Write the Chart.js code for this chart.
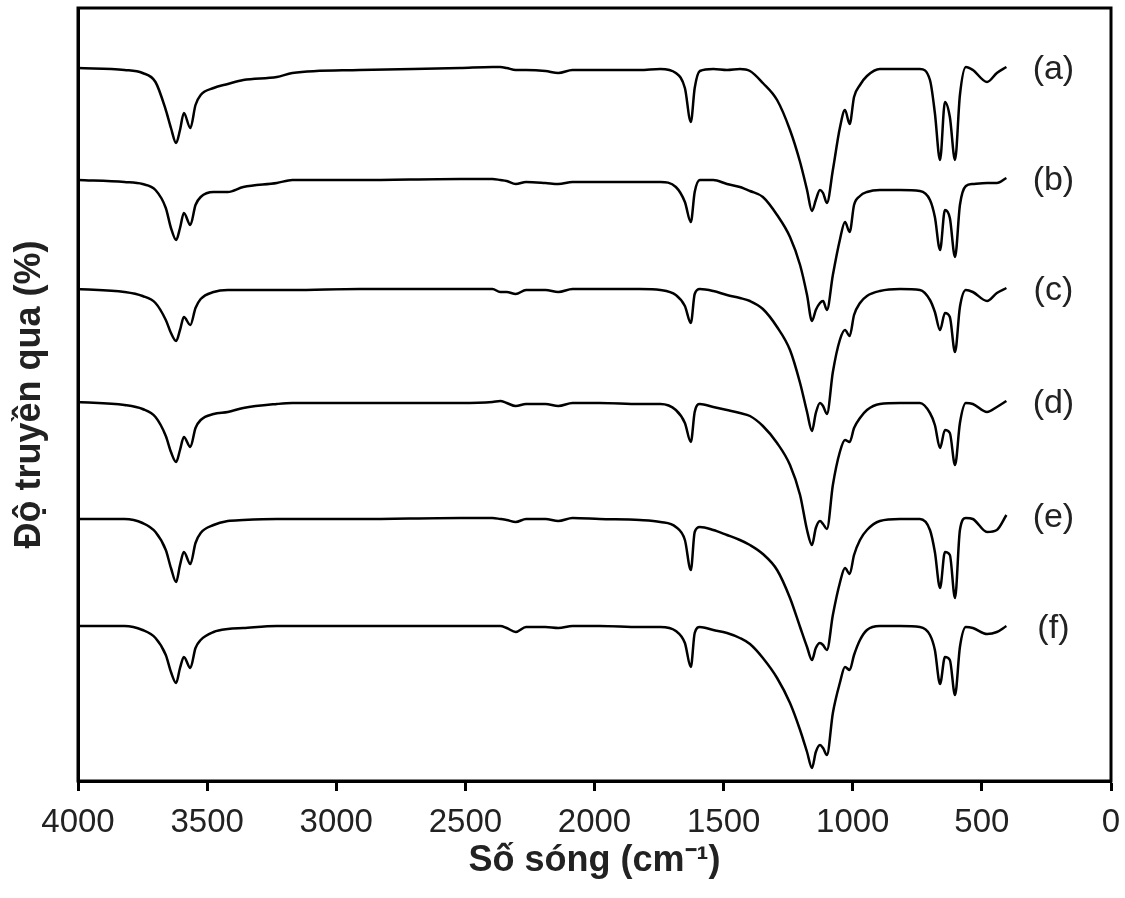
<!DOCTYPE html>
<html>
<head>
<meta charset="utf-8">
<script src="https://cdn.jsdelivr.net/npm/chart.js@4.4.1/dist/chart.umd.min.js"></script>
<style>
  html, body { margin: 0; padding: 0; background: #fff; }
  #wrap { width: 1125px; height: 898px; }
</style>
</head>
<body>
<div id="wrap"><canvas id="ftirChart" width="1125" height="898"></canvas></div>
<script>
// Wavenumbers (cm-1) shared by all six spectra
const wavenumbers = [4000, 3820, 3750, 3700, 3660, 3640, 3620, 3605, 3590, 3565,
    3545, 3525, 3475, 3420, 3360, 3230, 3170, 2910, 2520, 2395,
    2365, 2340, 2305, 2265, 2190, 2140, 2085, 1980, 1825, 1745,
    1685, 1650, 1627, 1612, 1592, 1540, 1487, 1437, 1398, 1348,
    1293, 1243, 1204, 1177, 1158, 1143, 1127, 1115, 1100, 1077,
    1050, 1030, 1012, 995, 972, 945, 895, 817, 740, 701,
    682, 662, 643, 624, 604, 585, 562, 535, 480, 442, 405];

// Transmittance (arbitrary units, stacked with offsets)
const spectrumA = [713, 711, 708, 699, 671, 653, 638, 651, 668, 653,
    676, 686, 693, 697, 701, 704, 708, 711, 713, 714,
    714, 713, 711, 711, 710, 708, 711, 711, 711, 712,
    708, 693, 659, 693, 710, 712, 711, 712, 710, 698,
    681, 651, 619, 591, 570, 581, 591, 588, 578, 611,
    653, 671, 657, 684, 696, 705, 712, 712, 712, 701,
    668, 621, 679, 664, 621, 686, 714, 711, 699, 708, 714];
const spectrumB = [601, 599, 597, 591, 573, 553, 541, 553, 568, 556,
    576, 584, 589, 589, 594, 598, 601, 601, 602, 602,
    601, 600, 597, 599, 598, 597, 599, 599, 599, 599,
    594, 579, 559, 589, 601, 601, 597, 594, 590, 584,
    566, 544, 516, 486, 460, 471, 478, 480, 471, 506,
    541, 559, 549, 576, 585, 589, 591, 591, 590, 581,
    564, 531, 571, 563, 524, 576, 595, 597, 598, 598, 603];
const spectrumC = [492, 489, 485, 478, 461, 448, 440, 451, 464, 456,
    473, 482, 489, 491, 491, 491, 491, 492, 492, 492,
    489, 489, 487, 491, 491, 489, 492, 492, 492, 491,
    486, 475, 458, 487, 492, 490, 486, 483, 480, 472,
    454, 431, 398, 369, 350, 368, 378, 375, 367, 409,
    441, 451, 445, 466, 478, 485, 490, 492, 491, 481,
    469, 451, 468, 464, 429, 474, 491, 489, 480, 488, 493];
const spectrumD = [379, 376, 372, 364, 345, 329, 319, 331, 344, 334,
    353, 361, 367, 369, 373, 377, 378, 378, 378, 379,
    380, 378, 375, 377, 377, 375, 378, 378, 377, 377,
    371, 358, 339, 369, 377, 374, 371, 368, 365, 355,
    338, 316, 286, 251, 236, 253, 260, 257, 252, 296,
    329, 341, 339, 353, 363, 371, 377, 378, 378, 368,
    356, 333, 351, 348, 316, 358, 378, 377, 369, 374, 380];
const spectrumE = [262, 262, 258, 249, 231, 213, 199, 216, 229, 217,
    238, 248, 256, 260, 261, 262, 262, 262, 263, 263,
    262, 261, 259, 262, 262, 260, 263, 262, 261, 259,
    254, 241, 211, 249, 254, 251, 246, 241, 236, 227,
    211, 183, 154, 134, 121, 133, 138, 136, 131, 166,
    198, 213, 207, 226, 241, 251, 260, 262, 262, 251,
    229, 193, 229, 226, 183, 251, 263, 262, 249, 251, 266];
const spectrumF = [155, 155, 151, 143, 126, 109, 98, 113, 124, 113,
    133, 141, 149, 152, 153, 155, 155, 155, 155, 155,
    155, 153, 149, 154, 154, 153, 155, 155, 154, 154,
    150, 138, 114, 148, 154, 151, 148, 143, 137, 123,
    103, 78, 51, 29, 13, 29, 36, 33, 26, 68,
    98, 114, 111, 126, 141, 151, 155, 155, 154, 146,
    131, 97, 124, 121, 86, 134, 154, 153, 147, 149, 155];

const seriesLabels = ['(a)', '(b)', '(c)', '(d)', '(e)', '(f)'];
const seriesValues = [spectrumA, spectrumB, spectrumC, spectrumD, spectrumE, spectrumF];
const xTicks = [4000, 3500, 3000, 2500, 2000, 1500, 1000, 500, 0];

const FONT = 'Arial, "Liberation Sans", sans-serif';
const labelWavenumber = 223; // where the (a)...(f) tags sit

// Box around the plot + series tags at the right end
const frameAndTags = {
    id: 'frameAndTags',
    afterDatasetsDraw(chart) {
        const { ctx, chartArea: a, scales } = chart;
        ctx.save();
        ctx.lineWidth = 3;
        ctx.strokeStyle = '#000';
        ctx.strokeRect(a.left, a.top, a.right - a.left, a.bottom - a.top);

        ctx.font = '34px ' + FONT;
        ctx.fillStyle = '#222';
        ctx.textAlign = 'center';
        ctx.textBaseline = 'middle';
        chart.data.datasets.forEach(ds => {
            const last = ds.data[ds.data.length - 1];
            ctx.fillText(ds.label, scales.x.getPixelForValue(labelWavenumber), scales.y.getPixelForValue(last.y) + 3);
        });
        ctx.restore();
    }
};

const ctx = document.getElementById('ftirChart').getContext('2d');

new Chart(ctx, {
    type: 'line',
    data: {
        datasets: seriesValues.map((vals, i) => ({
            label: seriesLabels[i],
            data: wavenumbers.map((w, j) => ({ x: w, y: vals[j] })),
            borderColor: '#000',
            borderWidth: 2.5,
            pointRadius: 0,
            fill: false,
            cubicInterpolationMode: 'monotone'
        }))
    },
    options: {
        responsive: false,
        animation: false,
        layout: { padding: { top: 8, right: 14, left: 0, bottom: 0 } },
        plugins: {
            legend: { display: false },
            tooltip: { enabled: false }
        },
        scales: {
            x: {
                type: 'linear',
                reverse: true,
                min: 0,
                max: 4000,
                afterBuildTicks: scale => { scale.ticks = xTicks.map(v => ({ value: v })); },
                afterFit: scale => {
                    scale.height = 117;
                    // no extra room for the end labels, the layout padding covers it
                    scale.paddingLeft = 0;
                    scale.paddingRight = 0;
                },
                ticks: {
                    color: '#222',
                    font: { family: FONT, size: 33 },
                    padding: 12,
                    maxRotation: 0,
                    autoSkip: false,
                    callback: v => String(v)
                },
                grid: {
                    drawOnChartArea: false,
                    color: '#000',
                    tickLength: 10,
                    tickWidth: 3
                },
                border: { color: '#000', width: 3 },
                title: {
                    display: true,
                    text: 'Số sóng (cm⁻¹)',
                    color: '#222',
                    font: { family: FONT, size: 36, weight: 'bold' },
                    padding: { top: 0, bottom: 15 }
                }
            },
            y: {
                min: 0,
                max: 773,
                afterFit: scale => { scale.width = 78; },
                ticks: { display: false },
                grid: { display: false },
                border: { color: '#000', width: 3 },
                title: {
                    display: true,
                    text: 'Độ truyền qua (%)',
                    color: '#222',
                    font: { family: FONT, size: 36, weight: 'bold' },
                    padding: { top: 8, bottom: 0 }
                }
            }
        }
    },
    plugins: [frameAndTags]
});
</script>
</body>
</html>
